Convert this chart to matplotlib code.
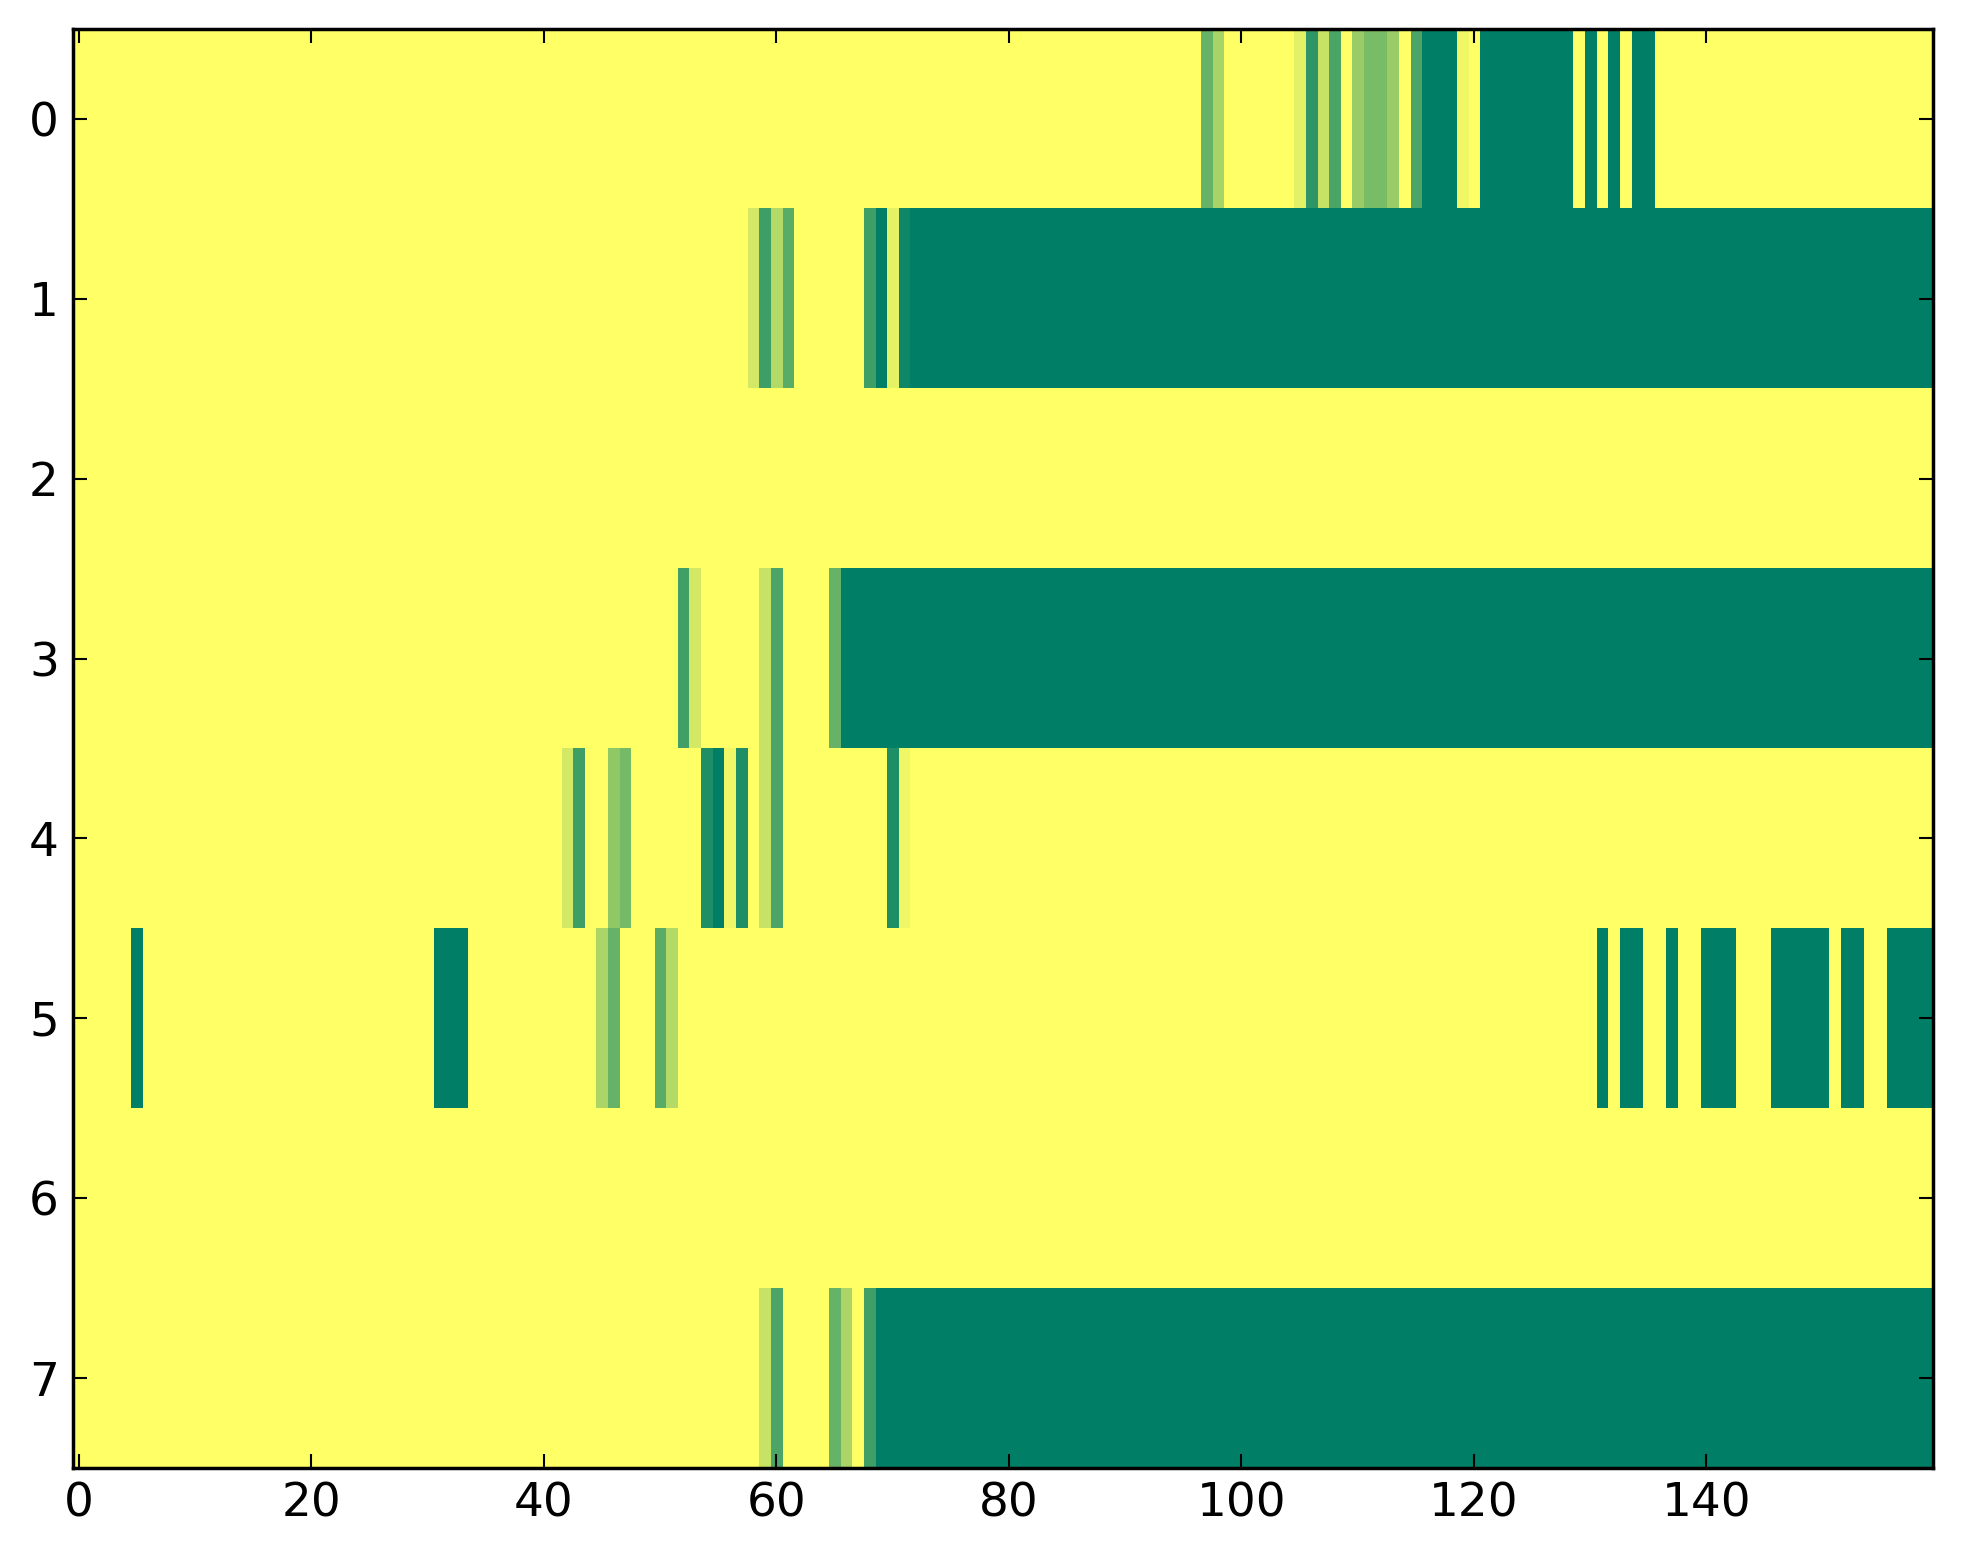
import numpy as np
import matplotlib
matplotlib.use("Agg")
import matplotlib.pyplot as plt

# ---- data: per row, runs of (first_col, last_col, value); everything else is 0 ----
n_rows = 8
n_cols = 160

row0_runs = [(97, 97, 0.60), (98, 98, 0.34), (105, 105, 0.11), (106, 106, 0.82),
             (107, 107, 0.22), (108, 108, 0.71), (110, 110, 0.40), (111, 112, 0.52),
             (113, 113, 0.40), (115, 115, 0.70), (116, 118, 1.0), (119, 119, 0.06),
             (121, 128, 1.0), (130, 130, 1.0), (132, 132, 1.0), (134, 135, 1.0)]
row1_runs = [(58, 58, 0.17), (59, 59, 0.76), (60, 60, 0.30), (61, 61, 0.65),
             (68, 68, 0.76), (69, 69, 1.0), (70, 70, 0.10), (71, 71, 0.94),
             (72, 159, 1.0)]
row2_runs = []
row3_runs = [(52, 52, 0.75), (53, 53, 0.17), (59, 59, 0.22), (60, 60, 0.70),
             (65, 65, 0.60), (66, 159, 1.0)]
row4_runs = [(42, 42, 0.17), (43, 43, 0.76), (46, 46, 0.43), (47, 47, 0.54),
             (54, 54, 0.88), (55, 55, 1.0), (56, 56, 0.06), (57, 57, 0.88),
             (59, 59, 0.22), (60, 60, 0.70), (70, 70, 0.88), (71, 71, 0.06)]
row5_runs = [(5, 5, 1.0), (31, 33, 1.0), (45, 45, 0.33), (46, 46, 0.60),
             (50, 50, 0.65), (51, 51, 0.30), (131, 131, 1.0), (133, 134, 1.0),
             (137, 137, 1.0), (140, 142, 1.0), (146, 150, 1.0), (152, 153, 1.0),
             (156, 159, 1.0)]
row6_runs = []
row7_runs = [(59, 59, 0.22), (60, 60, 0.70), (65, 65, 0.60), (66, 66, 0.33),
             (68, 68, 0.75), (69, 159, 1.0)]

all_runs = [row0_runs, row1_runs, row2_runs, row3_runs,
            row4_runs, row5_runs, row6_runs, row7_runs]

xticks = [0, 20, 40, 60, 80, 100, 120, 140]
yticks = [0, 1, 2, 3, 4, 5, 6, 7]

data = np.zeros((n_rows, n_cols))
for r, runs in enumerate(all_runs):
    for a, b, v in runs:
        data[r, a:b + 1] = v

# ---- figure ----
plt.rcParams['font.family'] = ['DejaVu Sans']
dpi = 250
fig = plt.figure(figsize=(1963 / dpi, 1564 / dpi), dpi=dpi)
ax = fig.add_axes([0.0371, 0.0614, 0.9476, 0.9201])
ax.imshow(data, cmap='summer_r', vmin=0, vmax=1, aspect='auto',
          interpolation='nearest')

ax.set_xticks(xticks)
ax.set_yticks(yticks)
ax.tick_params(direction='in', top=True, right=True, length=4, width=0.6,
               labelsize=13.5, pad=4)
for s in ax.spines.values():
    s.set_linewidth(1.0)

fig.savefig('out.png', dpi=dpi)
